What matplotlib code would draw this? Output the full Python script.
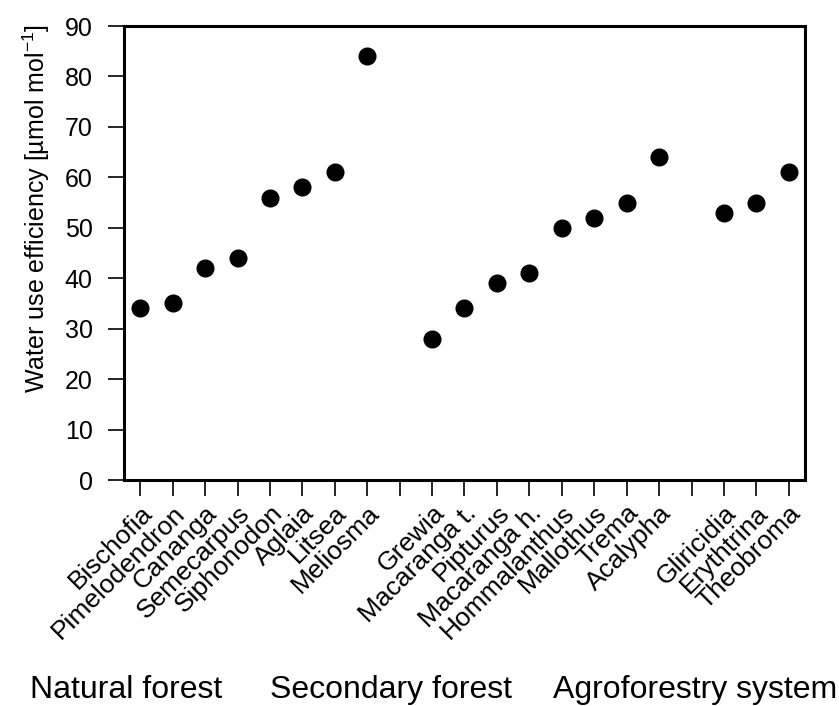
import numpy as np
import matplotlib
matplotlib.use("Agg")
import matplotlib.pyplot as plt

plt.rcParams["font.family"] = ["Liberation Sans", "DejaVu Sans"]
plt.rcParams["mathtext.default"] = "regular"

natural = ["Bischofia", "Pimelodendron", "Cananga", "Semecarpus",
           "Siphonodon", "Aglaia", "Litsea", "Meliosma"]
natural_wue = [34, 35, 42, 44, 56, 58, 61, 84]

secondary = ["Grewia", "Macaranga t.", "Pipturus", "Macaranga h.",
             "Hommalanthus", "Mallothus", "Trema", "Acalypha"]
secondary_wue = [28, 34, 39, 41, 50, 52, 55, 64]

agro = ["Gliricidia", "Erythtrina", "Theobroma"]
agro_wue = [53, 55, 61]

group_names = ["Natural forest", "Secondary forest", "Agroforestry system"]

# one empty slot between groups
labels = natural + [""] + secondary + [""] + agro
x_nat = np.arange(1, len(natural) + 1)
x_sec = np.arange(len(natural) + 2, len(natural) + len(secondary) + 2)
x_agr = np.arange(x_sec[-1] + 2, x_sec[-1] + 2 + len(agro))

fig = plt.figure(figsize=(8.39, 7.06), dpi=100)
ax = fig.add_axes([124 / 839, 1 - 480 / 706, 681 / 839, 454 / 706])

for xs, ys in [(x_nat, natural_wue), (x_sec, secondary_wue), (x_agr, agro_wue)]:
    ax.plot(xs, ys, "o", color="black", markersize=12, linestyle="none")

ax.set_xlim(0.5, len(labels) + 0.5)
ax.set_ylim(0, 90)
ax.set_yticks(np.arange(0, 91, 10))
ax.set_xticks(np.arange(1, len(labels) + 1))
ax.set_xticklabels(labels, rotation=45, ha="right", rotation_mode="anchor",
                   fontsize=19)
ax.tick_params(direction="out", length=11.5, width=1.2, color="black")
ax.tick_params(axis="y", labelsize=18, pad=11)
for s in ax.spines.values():
    s.set_linewidth(2.2)

fig.text(36 / 839, 1 - 209 / 706,
         r"Water use efficiency [µmol mol$^{-1}$]",
         rotation=90, ha="center", va="center", fontsize=18)

for name, xc in zip(group_names, [126, 391, 695]):
    fig.text(xc / 839, 1 - 698 / 706, name, ha="center", va="baseline",
             fontsize=23)

fig.savefig("out.png", dpi=100)
